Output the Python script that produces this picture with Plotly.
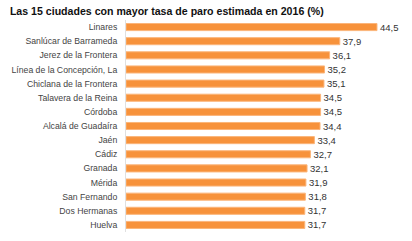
import plotly.graph_objects as go

cities = ["Linares", "Sanlúcar de Barrameda", "Jerez de la Frontera",
          "Línea de la Concepción, La", "Chiclana de la Frontera",
          "Talavera de la Reina", "Córdoba", "Alcalá de Guadaíra", "Jaén",
          "Cádiz", "Granada", "Mérida", "San Fernando", "Dos Hermanas", "Huelva"]
rates = [44.5, 37.9, 36.1, 35.2, 35.1, 34.5, 34.5, 34.4, 33.4, 32.7,
         32.1, 31.9, 31.8, 31.7, 31.7]

fig = go.Figure(go.Bar(
    x=rates, y=cities, orientation="h",
    marker=dict(color="#F7923B", line=dict(color="#FBB57A", width=1)),
    text=rates, texttemplate="%{x:.1f}", textposition="outside",
    constraintext="none",
    textfont=dict(family="Liberation Sans, Arial, sans-serif", size=9.5, color="#333333"),
    cliponaxis=False,
))

fig.update_layout(
    width=412, height=241,
    margin=dict(l=126, r=4, t=20, b=9),
    paper_bgcolor="white", plot_bgcolor="white",
    separators=",.",
    bargap=0.5,
    showlegend=False,
    title=dict(text="<b>Las 15 ciudades con mayor tasa de paro estimada en 2016 (%)</b>",
               x=0.024, xanchor="left", y=0.955, yanchor="middle",
               font=dict(family="Liberation Sans, Arial, sans-serif", size=10.6, color="#111111")),
    xaxis=dict(range=[0, 50], visible=False, fixedrange=True),
    yaxis=dict(autorange="reversed", showline=True, linecolor="#E0E0E0", linewidth=1,
               ticks="", showgrid=False, ticklabelstandoff=6,
               tickfont=dict(family="Liberation Sans, Arial, sans-serif", size=8.7, color="#444444")),
)

fig.write_html("out.html")
